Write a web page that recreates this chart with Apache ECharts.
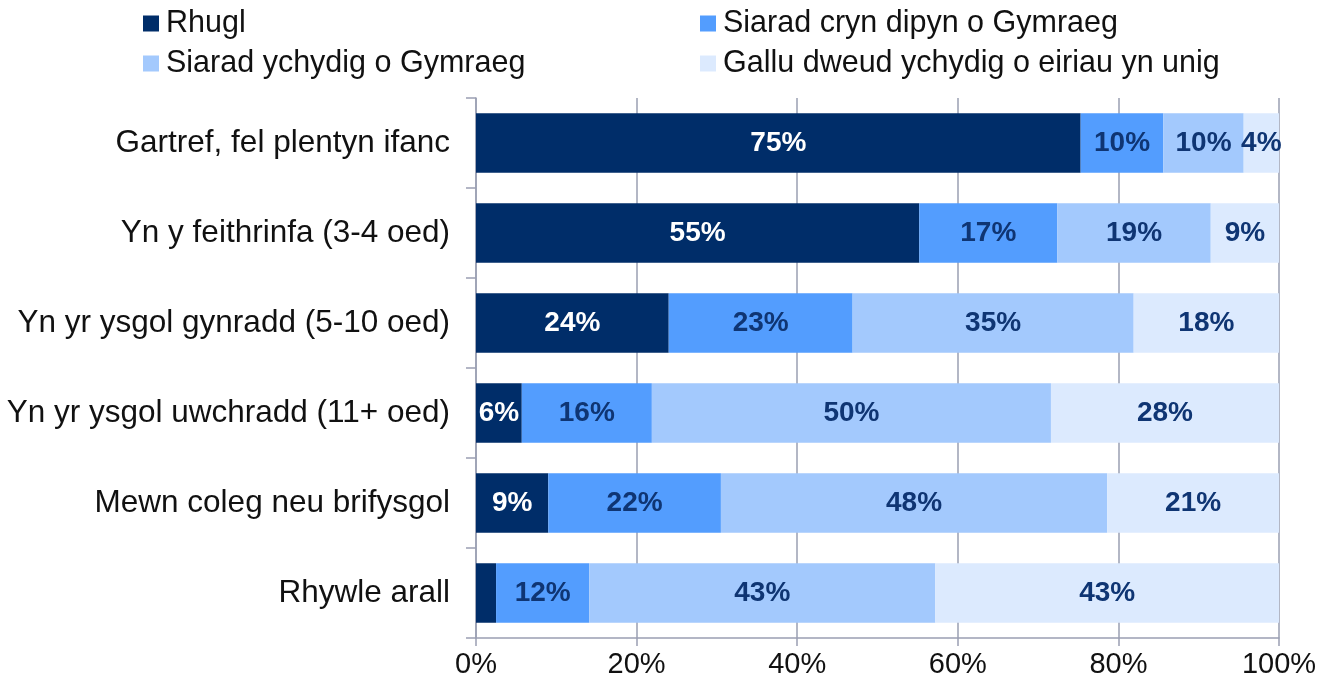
<!DOCTYPE html>
<html>
<head>
<meta charset="utf-8">
<script src="https://cdn.jsdelivr.net/npm/echarts@6/dist/echarts.min.js"></script>
<style>
  html, body { margin: 0; padding: 0; background: #fff; }
  #chart { width: 1332px; height: 691px; }
</style>
</head>
<body>
<div id="chart"></div>
<script>
    var categories = [
        'Gartref, fel plentyn ifanc',
        'Yn y feithrinfa (3-4 oed)',
        'Yn yr ysgol gynradd (5-10 oed)',
        'Yn yr ysgol uwchradd (11+ oed)',
        'Mewn coleg neu brifysgol',
        'Rhywle arall'
    ];
    var seriesNames = [
        'Rhugl',
        'Siarad cryn dipyn o Gymraeg',
        'Siarad ychydig o Gymraeg',
        'Gallu dweud ychydig o eiriau yn unig'
    ];
    var rhugl = [75.3, 55.2, 24.0, 5.7, 9.0, 2.5];
    var crynDipyn = [10.3, 17.2, 22.9, 16.2, 21.5, 11.6];
    var ychydig = [10.0, 19.1, 35.0, 49.7, 48.1, 43.1];
    var geiriau = [4.4, 8.5, 18.1, 28.4, 21.4, 42.8];
    var xTicks = [0, 20, 40, 60, 80, 100];

    var colors = ['#002d69', '#539dfe', '#a3c9fd', '#dceafe'];
    var labelColors = ['#ffffff', '#0f3573', '#0f3573', '#0f3573'];
    var fontFamily = '"Liberation Sans", Arial, sans-serif';
    var gridColor = '#9a9fb2';

    var makeSeries = function (name, data, i) {
        return {
            name: name,
            type: 'bar',
            stack: 'total',
            barCategoryGap: '34%',
            data: data,
            itemStyle: { color: colors[i] },
            label: {
                show: true,
                position: 'inside',
                fontFamily: fontFamily,
                fontSize: 28,
                fontWeight: 'bold',
                color: labelColors[i],
                formatter: function (p) {
                    return p.value < 3 ? '' : Math.round(p.value) + '%';
                }
            }
        };
    };

    var legendText = { fontFamily: fontFamily, fontSize: 30.5, color: '#111', padding: [0, 0, 0, 2] };

    var myChart = echarts.init(document.getElementById('chart'));
    myChart.setOption({
        backgroundColor: '#fff',
        animation: false,
        color: colors,
        legend: [{
            orient: 'vertical',
            left: 138,
            top: 3,
            itemWidth: 16,
            itemHeight: 16,
            itemGap: 9,
            icon: 'rect',
            textStyle: legendText,
            data: [seriesNames[0], seriesNames[2]]
        }, {
            orient: 'vertical',
            left: 695,
            top: 3,
            itemWidth: 16,
            itemHeight: 16,
            itemGap: 9,
            icon: 'rect',
            textStyle: legendText,
            data: [seriesNames[1], seriesNames[3]]
        }],
        grid: { left: 476, right: 53, top: 98, bottom: 53 },
        xAxis: {
            type: 'value',
            min: xTicks[0],
            max: xTicks[xTicks.length - 1],
            interval: 20,
            axisLine: { show: true, lineStyle: { color: gridColor, width: 1.5 } },
            axisTick: { show: true, length: 8, lineStyle: { color: gridColor, width: 1.5 } },
            splitLine: { show: true, lineStyle: { color: gridColor, width: 1.5 } },
            axisLabel: {
                fontFamily: fontFamily,
                fontSize: 29,
                color: '#111',
                margin: 12,
                formatter: '{value}%'
            }
        },
        yAxis: {
            type: 'category',
            inverse: true,
            data: categories,
            axisLine: { show: true, lineStyle: { color: gridColor, width: 1.5 } },
            axisTick: { show: true, length: 10, alignWithLabel: false, lineStyle: { color: gridColor, width: 1.5 } },
            axisLabel: {
                fontFamily: fontFamily,
                fontSize: 31.5,
                color: '#111',
                margin: 26
            }
        },
        series: [
            makeSeries(seriesNames[0], rhugl, 0),
            makeSeries(seriesNames[1], crynDipyn, 1),
            makeSeries(seriesNames[2], ychydig, 2),
            makeSeries(seriesNames[3], geiriau, 3)
        ]
    });
</script>
</body>
</html>
